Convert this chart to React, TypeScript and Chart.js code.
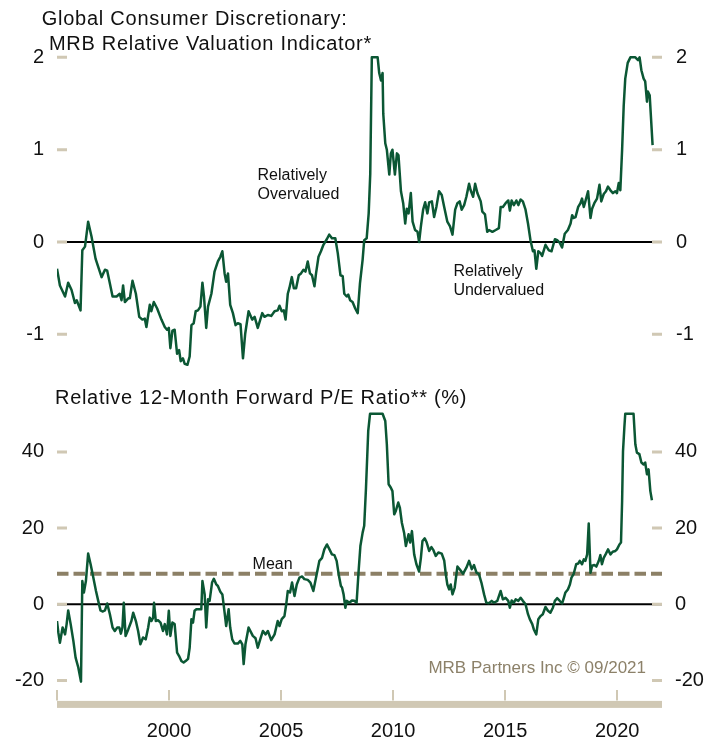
import React, { useEffect, useRef } from 'react';
import { Chart, registerables } from 'chart.js';

Chart.register(...registerables);

const FONT = '"Liberation Sans", Arial, Helvetica, sans-serif';
const GREEN = '#0b5734';
const TAN = '#d0c8b4';
const MEAN_COLOR = '#8c8066';
const CREDIT_COLOR = '#8c8169';

// ---------- axes ----------
const xTickValues = [1995, 2000, 2005, 2010, 2015, 2020];
const xTickLabels = ['', '2000', '2005', '2010', '2015', '2020'];
const topTickValues = [-1, 0, 1, 2];
const peTickValues = [-20, 0, 20, 40];
const peMean = 8;

// ---------- top panel: MRB Relative Valuation Indicator ----------
const topYears = [
  1995.0, 1995.13, 1995.36, 1995.5, 1995.65, 1995.8, 1995.88, 1996.05, 1996.13, 1996.25,
  1996.39, 1996.54, 1996.72, 1996.84, 1996.99, 1997.14, 1997.24, 1997.36, 1997.48, 1997.66,
  1997.8, 1997.88, 1997.95, 1998.03, 1998.18, 1998.25, 1998.37, 1998.52, 1998.67, 1998.81,
  1998.92, 1998.99, 1999.14, 1999.21, 1999.32, 1999.47, 1999.66, 1999.81, 1999.91, 1999.99,
  2000.06, 2000.15, 2000.25, 2000.36, 2000.45, 2000.52, 2000.62, 2000.7, 2000.82, 2000.92,
  2001.0, 2001.1, 2001.19, 2001.29, 2001.4, 2001.49, 2001.56, 2001.66, 2001.74, 2001.89,
  2002.03, 2002.18, 2002.29, 2002.38, 2002.48, 2002.55, 2002.63, 2002.73, 2002.85, 2002.97,
  2003.07, 2003.19, 2003.3, 2003.4, 2003.55, 2003.71, 2003.82, 2003.96, 2004.16, 2004.26,
  2004.41, 2004.56, 2004.71, 2004.85, 2004.93, 2005.03, 2005.12, 2005.2, 2005.3, 2005.37,
  2005.48, 2005.57, 2005.67, 2005.79, 2005.89, 2006.0, 2006.09, 2006.19, 2006.29, 2006.38,
  2006.49, 2006.56, 2006.67, 2006.78, 2006.89, 2007.04, 2007.15, 2007.27, 2007.42, 2007.53,
  2007.65, 2007.75, 2007.82, 2007.93, 2008.0, 2008.08, 2008.19, 2008.31, 2008.42, 2008.52,
  2008.64, 2008.71, 2008.82, 2008.91, 2008.98, 2009.05, 2009.31, 2009.38, 2009.46, 2009.53,
  2009.56, 2009.65, 2009.72, 2009.83, 2009.9, 2009.97, 2010.08, 2010.17, 2010.24, 2010.35,
  2010.45, 2010.54, 2010.61, 2010.69, 2010.79, 2010.87, 2010.98, 2011.09, 2011.16, 2011.24,
  2011.34, 2011.43, 2011.53, 2011.61, 2011.73, 2011.83, 2011.93, 2012.05, 2012.17, 2012.28,
  2012.42, 2012.54, 2012.65, 2012.77, 2012.87, 2012.97, 2013.06, 2013.17, 2013.27, 2013.39,
  2013.46, 2013.57, 2013.66, 2013.76, 2013.91, 2013.98, 2014.1, 2014.2, 2014.28, 2014.43,
  2014.58, 2014.72, 2014.8, 2014.9, 2015.02, 2015.14, 2015.21, 2015.29, 2015.39, 2015.5,
  2015.59, 2015.69, 2015.79, 2015.91, 2016.02, 2016.13, 2016.24, 2016.31, 2016.39, 2016.48,
  2016.58, 2016.65, 2016.8, 2016.95, 2017.07, 2017.22, 2017.32, 2017.44, 2017.54, 2017.66,
  2017.8, 2017.92, 2017.99, 2018.06, 2018.14, 2018.26, 2018.36, 2018.43, 2018.51, 2018.58,
  2018.7, 2018.81, 2018.88, 2018.98, 2019.1, 2019.21, 2019.29, 2019.4, 2019.5, 2019.59,
  2019.7, 2019.81, 2019.92, 2019.99, 2020.07, 2020.14, 2020.22, 2020.29, 2020.36, 2020.47,
  2020.59, 2020.81, 2020.93, 2021.0, 2021.08, 2021.18, 2021.25, 2021.33, 2021.37, 2021.45,
  2021.58,
];
const topValues = [
  -0.29, -0.47, -0.59, -0.44, -0.52, -0.66, -0.63, -0.74, -0.09, -0.05,
  0.22, 0.06, -0.18, -0.27, -0.38, -0.3, -0.31, -0.45, -0.59, -0.59,
  -0.56, -0.63, -0.47, -0.65, -0.61, -0.61, -0.42, -0.56, -0.81, -0.84,
  -0.83, -0.92, -0.68, -0.75, -0.65, -0.72, -0.84, -0.92, -0.95, -0.93,
  -1.15, -0.96, -0.95, -1.21, -1.17, -1.29, -1.26, -1.32, -1.33, -1.24,
  -0.9, -0.88, -0.75, -0.74, -0.7, -0.44, -0.59, -0.93, -0.7, -0.56,
  -0.32, -0.21, -0.16, -0.1, -0.34, -0.43, -0.34, -0.68, -0.77, -0.9,
  -0.88, -0.89, -1.26, -0.99, -0.75, -0.84, -0.81, -0.93, -0.77, -0.81,
  -0.79, -0.8, -0.75, -0.74, -0.69, -0.75, -0.74, -0.84, -0.56, -0.5,
  -0.38, -0.5, -0.5, -0.36, -0.34, -0.3, -0.32, -0.21, -0.34, -0.36,
  -0.48, -0.34, -0.16, -0.1, -0.03, 0.03, 0.08, 0.04, 0.04, -0.12,
  -0.36, -0.37, -0.56, -0.59, -0.57, -0.63, -0.65, -0.72, -0.77, -0.45,
  -0.19, 0.02, 0.04, 0.31, 0.74, 2.0, 2.0, 1.83, 1.75, 1.83,
  1.39, 1.07, 1.0, 0.73, 0.96, 1.0, 0.73, 0.96, 0.94, 0.55,
  0.42, 0.2, 0.36, 0.31, 0.53, 0.22, 0.13, 0.11, 0.0, 0.17,
  0.35, 0.43, 0.31, 0.43, 0.44, 0.27, 0.38, 0.55, 0.51, 0.38,
  0.22, 0.17, 0.08, 0.35, 0.42, 0.44, 0.35, 0.4, 0.49, 0.63,
  0.56, 0.49, 0.63, 0.53, 0.44, 0.33, 0.3, 0.11, 0.13, 0.11,
  0.13, 0.15, 0.38, 0.38, 0.42, 0.45, 0.34, 0.45, 0.4, 0.45,
  0.4, 0.46, 0.44, 0.35, 0.2, 0.02, -0.1, -0.09, -0.29, -0.1,
  -0.12, -0.15, -0.03, -0.09, -0.1, 0.03, 0.02, -0.01, -0.06, 0.09,
  0.13, 0.2, 0.29, 0.26, 0.27, 0.38, 0.42, 0.47, 0.38, 0.44,
  0.55, 0.26, 0.36, 0.42, 0.47, 0.62, 0.44, 0.52, 0.55, 0.6,
  0.56, 0.53, 0.55, 0.53, 0.64, 0.56, 1.0, 1.47, 1.77, 1.94,
  2.0, 2.0, 1.97, 2.0, 1.86, 1.77, 1.74, 1.52, 1.63, 1.59,
  1.05,
];

// ---------- bottom panel: Relative 12-Month Forward P/E (%) ----------
const peYears = [
  1995.0, 1995.06, 1995.13, 1995.25, 1995.36, 1995.43, 1995.5, 1995.61, 1995.73, 1995.83,
  1995.95, 1996.07, 1996.13, 1996.2, 1996.29, 1996.39, 1996.5, 1996.62, 1996.74, 1996.84,
  1996.94, 1997.03, 1997.14, 1997.24, 1997.36, 1997.48, 1997.58, 1997.69, 1997.78, 1997.85,
  1997.92, 1997.98, 1998.06, 1998.18, 1998.32, 1998.4, 1998.52, 1998.62, 1998.72, 1998.84,
  1998.96, 1999.07, 1999.14, 1999.21, 1999.29, 1999.33, 1999.41, 1999.51, 1999.62, 1999.73,
  1999.81, 1999.91, 1999.99, 2000.06, 2000.15, 2000.25, 2000.36, 2000.45, 2000.55, 2000.65,
  2000.74, 2000.85, 2000.92, 2001.0, 2001.07, 2001.14, 2001.22, 2001.34, 2001.44, 2001.49,
  2001.59, 2001.66, 2001.74, 2001.81, 2001.92, 2002.0, 2002.11, 2002.18, 2002.29, 2002.38,
  2002.48, 2002.55, 2002.66, 2002.73, 2002.82, 2002.92, 2003.07, 2003.18, 2003.27, 2003.33,
  2003.41, 2003.55, 2003.74, 2003.86, 2003.96, 2004.07, 2004.19, 2004.31, 2004.41, 2004.56,
  2004.71, 2004.85, 2004.93, 2005.03, 2005.15, 2005.23, 2005.3, 2005.4, 2005.49, 2005.6,
  2005.7, 2005.82, 2005.94, 2006.04, 2006.19, 2006.31, 2006.44, 2006.56, 2006.71, 2006.83,
  2006.93, 2007.05, 2007.16, 2007.27, 2007.38, 2007.48, 2007.57, 2007.67, 2007.72, 2007.79,
  2007.87, 2007.93, 2008.05, 2008.16, 2008.27, 2008.37, 2008.46, 2008.54, 2008.64, 2008.71,
  2008.79, 2008.89, 2008.97, 2009.53, 2009.65, 2009.72, 2009.8, 2009.9, 2009.97, 2010.05,
  2010.12, 2010.23, 2010.3, 2010.39, 2010.49, 2010.57, 2010.69, 2010.76, 2010.84, 2010.94,
  2011.04, 2011.16, 2011.24, 2011.31, 2011.41, 2011.5, 2011.61, 2011.71, 2011.8, 2011.9,
  2012.02, 2012.17, 2012.28, 2012.35, 2012.42, 2012.5, 2012.57, 2012.65, 2012.75, 2012.87,
  2012.97, 2013.12, 2013.27, 2013.39, 2013.51, 2013.61, 2013.72, 2013.83, 2013.94, 2014.06,
  2014.16, 2014.28, 2014.4, 2014.5, 2014.65, 2014.8, 2014.9, 2015.02, 2015.14, 2015.21,
  2015.29, 2015.39, 2015.47, 2015.59, 2015.69, 2015.79, 2015.91, 2016.02, 2016.1, 2016.21,
  2016.28, 2016.39, 2016.48, 2016.58, 2016.68, 2016.8, 2016.91, 2017.02, 2017.13, 2017.22,
  2017.32, 2017.42, 2017.54, 2017.62, 2017.69, 2017.8, 2017.89, 2017.96, 2018.06, 2018.17,
  2018.26, 2018.33, 2018.43, 2018.51, 2018.58, 2018.66, 2018.73, 2018.81, 2018.88, 2018.98,
  2019.07, 2019.18, 2019.25, 2019.32, 2019.4, 2019.5, 2019.59, 2019.7, 2019.8, 2019.92,
  2019.99, 2020.1, 2020.17, 2020.22, 2020.26, 2020.32, 2020.36, 2020.73, 2020.81, 2020.88,
  2020.99, 2021.08, 2021.18, 2021.25, 2021.33, 2021.4, 2021.48, 2021.55,
];
const peValues = [
  -4.4, -7.4, -10.1, -6.1, -7.9, -5.2, -1.6, -5.2, -9.6, -14.0,
  -16.6, -20.3, 6.1, 3.1, 6.1, 13.3, 10.5, 7.0, 3.5, 0.9,
  -1.6, -1.9, -1.6, 0.2, -2.6, -6.1, -7.0, -6.1, -6.1, -7.7,
  -6.1, 0.4, -8.3, -6.6, -4.4, -2.2, -4.4, -7.0, -10.5, -8.7,
  -9.2, -6.1, -3.5, -4.4, -3.5, 0.4, -4.4, -4.2, -4.8, -7.0,
  -5.2, -7.9, -1.7, -8.3, -4.8, -5.2, -12.7, -13.6, -14.9, -15.3,
  -14.9, -14.3, -11.4, -3.9, -4.8, -1.7, -1.3, -1.3, -1.3, 6.1,
  2.6, -6.1, 1.3, 0.9, 5.7, 6.7, 5.2, 4.8, 3.3, 2.6,
  -2.2, -5.7, -1.3, -6.1, -9.2, -10.3, -10.3, -9.6, -10.5, -15.7,
  -10.5, -6.1, -8.3, -8.9, -11.4, -9.2, -7.0, -7.9, -7.0, -9.4,
  -7.9, -4.4, -5.7, -3.9, -3.1, 0.0, 3.5, 3.1, 5.7, 2.2,
  5.2, 7.0, 7.3, 6.6, 6.4, 5.7, 3.5, 7.0, 11.4, 12.2,
  14.4, 15.7, 14.4, 13.1, 12.9, 11.4, 7.9, 4.8, 4.4, 2.6,
  -0.9, 0.9, 0.4, 1.0, 0.9, 0.4, 8.7, 15.3, 18.8, 20.6,
  30.6, 45.5, 50, 50, 48.1, 42, 31.5, 30.6, 29.7, 23.6,
  24.5, 26.7, 25.4, 21.4, 18.8, 15.3, 18.4, 16.2, 19.2, 13.1,
  10.5, 8.6, 12.2, 16.6, 17.3, 16.2, 14.0, 15.0, 14.2, 12.7,
  13.6, 13.3, 11.5, 7.9, 5.2, 3.9, 5.2, 2.6, 4.4, 9.9,
  9.2, 8.0, 9.6, 11.4, 9.2, 10.3, 8.3, 7.9, 5.7, 2.6,
  0.4, 0.3, 0.9, 0.4, 0.9, 3.5, 1.3, 1.7, 0.9, -0.9,
  1.0, 0.4, 1.3, 0.9, 1.7, 0.9, 0.0, -2.6, -3.9, -5.2,
  -6.6, -7.9, -3.9, -3.1, -2.6, -0.7, -1.7, -2.2, -0.9, 0.9,
  1.6, 1.0, 0.2, 1.7, 3.1, 3.9, 5.2, 7.0, 8.0, 10.5,
  10.7, 11.4, 10.5, 11.8, 11.4, 13.1, 21.2, 8.3, 10.1, 10.3,
  9.9, 11.4, 12.9, 10.5, 12.2, 13.3, 14.4, 13.1, 13.8, 14.0,
  14.4, 15.7, 16.2, 27.1, 40.2, 46.4, 50, 50, 42.0, 39.8,
  39.4, 37.2, 36.7, 37.2, 34.1, 35.4, 29.7, 27.3,
];

type TextItem = {
  text: string;
  size: number;
  color: string;
  x?: number;
  y?: number;
  xv?: number;
  yv?: number;
  align?: CanvasTextAlign;
  spacing?: number;
};

type PanelCfg = {
  ticks: number[];
  mean?: number;
  band?: boolean;
  texts: TextItem[];
};

function panelPlugin(cfg: PanelCfg) {
  return {
    id: 'panelDecor',
    beforeDatasetsDraw(chart: any) {
      const { ctx, chartArea: a, scales } = chart;
      const y = scales.y;
      ctx.save();
      if (cfg.mean !== undefined) {
        const ym = y.getPixelForValue(cfg.mean);
        ctx.strokeStyle = MEAN_COLOR;
        ctx.lineWidth = 4;
        ctx.setLineDash([11.5, 5]);
        ctx.beginPath();
        ctx.moveTo(a.left, ym);
        ctx.lineTo(a.right, ym);
        ctx.stroke();
        ctx.setLineDash([]);
      }
      const y0 = y.getPixelForValue(0);
      ctx.strokeStyle = '#000';
      ctx.lineWidth = 2;
      ctx.beginPath();
      ctx.moveTo(a.left, y0);
      ctx.lineTo(a.right, y0);
      ctx.stroke();
      ctx.restore();
    },
    afterDatasetsDraw(chart: any) {
      const { ctx, chartArea: a, scales } = chart;
      const y = scales.y;
      const x = scales.x;
      ctx.save();
      ctx.strokeStyle = TAN;
      ctx.lineWidth = 3;
      cfg.ticks.forEach((v) => {
        const yy = y.getPixelForValue(v);
        ctx.beginPath();
        ctx.moveTo(a.left, yy);
        ctx.lineTo(a.left + 10, yy);
        ctx.moveTo(a.right - 10, yy);
        ctx.lineTo(a.right, yy);
        ctx.stroke();
      });
      if (cfg.band) {
        ctx.fillStyle = TAN;
        ctx.fillRect(a.left, a.bottom + 10.5, a.right - a.left, 7);
      }
      cfg.texts.forEach((t) => {
        ctx.font = `${t.size}px ${FONT}`;
        ctx.fillStyle = t.color;
        ctx.textAlign = t.align || 'left';
        ctx.textBaseline = 'alphabetic';
        try {
          (ctx as any).letterSpacing = `${t.spacing || 0}px`;
        } catch (e) {}
        const px = t.xv !== undefined ? x.getPixelForValue(t.xv) : (t.x as number);
        const py = t.yv !== undefined ? y.getPixelForValue(t.yv) : (t.y as number);
        ctx.fillText(t.text, px, py);
      });
      try {
        (ctx as any).letterSpacing = '0px';
      } catch (e) {}
      ctx.restore();
    },
  };
}

function yAxis(position: 'left' | 'right', min: number, max: number, ticks: number[], width: number, padding: number) {
  return {
    type: 'linear' as const,
    position,
    min,
    max,
    afterFit: (s: any) => {
      s.width = width;
      s.paddingTop = 0;
      s.paddingBottom = 0;
    },
    afterBuildTicks: (s: any) => {
      s.ticks = ticks.map((v) => ({ value: v }));
    },
    grid: { display: false, drawTicks: false },
    border: { display: false },
    ticks: {
      font: { family: FONT, size: 20 },
      color: '#111',
      padding,
      callback: (v: any) => String(v),
    },
  };
}

function makeLineData(xs: number[], ys: number[]) {
  return {
    datasets: [
      {
        data: xs.map((xv, i) => ({ x: xv, y: ys[i] })),
        borderColor: GREEN,
        borderWidth: 2.5,
        pointRadius: 0,
        tension: 0,
        fill: false,
        borderJoinStyle: 'round' as const,
      },
    ],
  };
}

export default function App() {
  const topRef = useRef<HTMLCanvasElement>(null);
  const botRef = useRef<HTMLCanvasElement>(null);

  useEffect(() => {
    const topMin = -1.4;
    const topMax = 2.1;
    const top = new Chart(topRef.current as HTMLCanvasElement, {
      type: 'line',
      data: makeLineData(topYears, topValues),
      options: {
        animation: false,
        responsive: false,
        devicePixelRatio: 1,
        layout: { padding: { top: 48.1, bottom: 8.7, left: 0, right: 0 } },
        plugins: { legend: { display: false }, tooltip: { enabled: false } },
        scales: {
          x: { type: 'linear', min: 1995, max: 2022, display: false },
          y: yAxis('left', topMin, topMax, topTickValues, 57, 13),
          y2: yAxis('right', topMin, topMax, topTickValues, 58, 14),
        },
      } as any,
      plugins: [
        panelPlugin({
          ticks: topTickValues,
          texts: [
            { text: 'Global Consumer Discretionary:', x: 41.7, y: 25, size: 20, color: '#111', spacing: 0.75 },
            { text: 'MRB Relative Valuation Indicator*', x: 49, y: 50, size: 20, color: '#111', spacing: 0.7 },
            { text: 'Relatively', xv: 2003.95, yv: 0.67, size: 16, color: '#111' },
            { text: 'Overvalued', xv: 2003.95, yv: 0.463, size: 16, color: '#111' },
            { text: 'Relatively', xv: 2012.69, yv: -0.368, size: 16, color: '#111' },
            { text: 'Undervalued', xv: 2012.69, yv: -0.574, size: 16, color: '#111' },
          ],
        }) as any,
      ],
    });

    const peMin = -22.6;
    const peMax = 51.2;
    const bottom = new Chart(botRef.current as HTMLCanvasElement, {
      type: 'line',
      data: makeLineData(peYears, peValues),
      options: {
        animation: false,
        responsive: false,
        devicePixelRatio: 1,
        layout: { padding: { top: 29.2, bottom: 0, left: 0, right: 0 } },
        plugins: { legend: { display: false }, tooltip: { enabled: false } },
        scales: {
          x: {
            type: 'linear',
            min: 1995,
            max: 2022,
            position: 'bottom',
            afterFit: (s: any) => {
              s.height = 49.6;
            },
            afterBuildTicks: (s: any) => {
              s.ticks = xTickValues.map((v) => ({ value: v }));
            },
            grid: {
              display: true,
              drawOnChartArea: false,
              drawTicks: true,
              tickLength: 10,
              color: TAN,
              lineWidth: 2,
            },
            border: { display: false },
            ticks: {
              font: { family: FONT, size: 20 },
              color: '#111',
              padding: 19,
              maxRotation: 0,
              autoSkip: false,
              callback: (_v: any, i: number) => xTickLabels[i],
            },
          },
          y: yAxis('left', peMin, peMax, peTickValues, 57, 13),
          y2: yAxis('right', peMin, peMax, peTickValues, 58, 13),
        },
      } as any,
      plugins: [
        panelPlugin({
          ticks: peTickValues,
          mean: peMean,
          band: true,
          texts: [
            { text: 'Relative 12-Month Forward P/E Ratio** (%)', x: 55, y: 24, size: 20, color: '#111', spacing: 0.7 },
            { text: 'Mean', xv: 2003.73, yv: 9.3, size: 16, color: '#111' },
            { text: 'MRB Partners Inc © 09/2021', x: 646, y: 293, size: 17, color: CREDIT_COLOR, align: 'right' },
          ],
        }) as any,
      ],
    });

    return () => {
      top.destroy();
      bottom.destroy();
    };
  }, []);

  return (
    <div style={{ position: 'absolute', left: 0, top: 0, width: 720, height: 740, background: '#fff' }}>
      <canvas
        ref={topRef}
        width={720}
        height={380}
        style={{ position: 'absolute', left: 0, top: 0, width: 720, height: 380 }}
      />
      <canvas
        ref={botRef}
        width={720}
        height={360}
        style={{ position: 'absolute', left: 0, top: 380, width: 720, height: 360 }}
      />
    </div>
  );
}
